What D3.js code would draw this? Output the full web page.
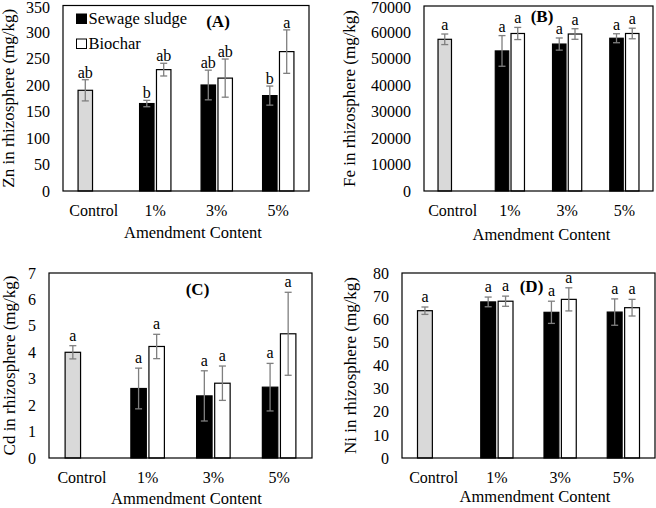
<!DOCTYPE html>
<html>
<head>
<meta charset="utf-8">
<script src="https://cdn.jsdelivr.net/npm/d3@7/dist/d3.min.js"></script>
<style>
  body { margin: 0; background: #fff; }
  svg text { font-family: "Liberation Serif", "Times New Roman", "DejaVu Serif", serif; fill: #000; }
</style>
</head>
<body>
<svg id="chart" width="656" height="508"></svg>
<script>
// categories on the x axis
const categories = ["Control", "1%", "3%", "5%"];
const seriesNames = ["Sewage sludge", "Biochar"];

// Zn (A) - control value sits in the sludge slot
const znSludge = [190, 165, 200, 180];
const znSludgeErr = [20, 6, 28, 18];
const znBiochar = [null, 229, 213, 263];
const znBiocharErr = [null, 12, 36, 41];
const znSludgeLetters = ["ab", "b", "ab", "b"];
const znBiocharLetters = [null, "ab", "ab", "a"];
const znTicks = [0, 50, 100, 150, 200, 250, 300, 350];

// Fe (B)
const feSludge = [57400, 53000, 55600, 57800];
const feSludgeErr = [2000, 5800, 2300, 1700];
const feBiochar = [null, 59600, 59400, 59600];
const feBiocharErr = [null, 2300, 2000, 2000];
const feSludgeLetters = ["a", "a", "a", "a"];
const feBiocharLetters = [null, "a", "a", "a"];
const feTicks = [0, 10000, 20000, 30000, 40000, 50000, 60000, 70000];

// Cd (C)
const cdSludge = [4.0, 2.63, 2.35, 2.68];
const cdSludgeErr = [0.25, 0.77, 0.95, 0.9];
const cdBiochar = [null, 4.22, 2.83, 4.7];
const cdBiocharErr = [null, 0.46, 0.65, 1.57];
const cdSludgeLetters = ["a", "a", "a", "a"];
const cdBiocharLetters = [null, "a", "a", "a"];
const cdTicks = [0, 1, 2, 3, 4, 5, 6, 7];

// Ni (D)
const niSludge = [63.7, 67.5, 63.0, 63.1];
const niSludgeErr = [1.6, 2.1, 4.8, 5.7];
const niBiochar = [null, 67.8, 68.6, 65.0];
const niBiocharErr = [null, 2.2, 5.0, 3.6];
const niSludgeLetters = ["a", "a", "a", "a"];
const niBiocharLetters = [null, "a", "a", "a"];
const niTicks = [0, 10, 20, 30, 40, 50, 60, 70, 80];

const FONT = "'Liberation Serif', 'Times New Roman', 'DejaVu Serif', serif";

const svg = d3.select("#chart");
svg.append("rect").attr("width", 656).attr("height", 508).attr("fill", "#fff");

function buildRows(sl, slE, slL, bc, bcE, bcL){
  let rows = [];
  categories.forEach(function(c, i){
    if(sl[i] != null) rows.push({cat: c, s: "Sewage sludge", val: sl[i], err: slE[i], lab: slL[i], ctrl: i === 0});
    if(bc[i] != null) rows.push({cat: c, s: "Biochar", val: bc[i], err: bcE[i], lab: bcL[i], ctrl: false});
  });
  return rows;
}

function drawPanel(p){
  let w = p.right - p.left, h = p.bottom - p.top;
  let g = svg.append("g").attr("transform", "translate(" + p.left + "," + p.top + ")")
    .attr("font-family", FONT);

  let x = d3.scaleBand().domain(categories).range([0, w]);
  let bw = x.bandwidth();
  let x1 = d3.scaleBand().domain(seriesNames).range([-0.255 * bw, 0.255 * bw]).paddingInner(0.145);
  let y = d3.scaleLinear().domain([0, p.max]).range([h, 0]);

  // y axis labels
  let ya = g.append("g")
    .call(d3.axisLeft(y).tickValues(p.ticks).tickSize(0).tickPadding(13).tickFormat(d3.format("d")));
  ya.attr("font-family", FONT).attr("font-size", 16);
  ya.select(".domain").remove();
  // top label sits on the window edge, nudge it in a touch
  if(p.top < 10){
    ya.selectAll("text").filter(function(d){ return d === p.max; }).attr("dy", "0.42em");
  }

  // x axis labels
  let xa = g.append("g").attr("transform", "translate(0," + h + ")")
    .call(d3.axisBottom(x).tickSize(0).tickPadding(13.5));
  xa.attr("font-family", FONT).attr("font-size", 16);
  xa.select(".domain").remove();

  let bars = g.selectAll(".bar").data(p.rows).enter().append("g");

  bars.append("rect")
    .attr("x", function(d){ return x(d.cat) + bw / 2 + x1(d.s); })
    .attr("y", function(d){ return y(d.val); })
    .attr("width", x1.bandwidth())
    .attr("height", function(d){ return h - y(d.val); })
    .attr("fill", function(d){ return d.ctrl ? "#d9d9d9" : (d.s === "Biochar" ? "#fff" : "#000"); })
    .attr("stroke", "#000")
    .attr("stroke-width", 1.2);

  // error bars
  let cx = function(d){ return x(d.cat) + bw / 2 + x1(d.s) + x1.bandwidth() / 2; };
  bars.append("line")
    .attr("x1", cx).attr("x2", cx)
    .attr("y1", function(d){ return y(d.val + d.err); })
    .attr("y2", function(d){ return y(d.val - d.err); })
    .attr("stroke", "#7f7f7f").attr("stroke-width", 1.3);
  [1, -1].forEach(function(sg){
    bars.append("line")
      .attr("x1", function(d){ return cx(d) - 3.5; })
      .attr("x2", function(d){ return cx(d) + 3.5; })
      .attr("y1", function(d){ return y(d.val + sg * d.err); })
      .attr("y2", function(d){ return y(d.val + sg * d.err); })
      .attr("stroke", "#7f7f7f").attr("stroke-width", 1.3);
  });

  // significance letters
  bars.append("text")
    .attr("x", cx)
    .attr("y", function(d){ return y(d.val + d.err) - p.letterGap; })
    .attr("text-anchor", "middle")
    .attr("font-size", 16)
    .text(function(d){ return d.lab; });

  // frame
  g.append("rect").attr("width", w).attr("height", h)
    .attr("fill", "none").attr("stroke", "#000").attr("stroke-width", 1.2);

  // panel tag
  g.append("text").attr("x", p.tagX).attr("y", p.tagY)
    .attr("text-anchor", "middle")
    .attr("font-size", 17).attr("font-weight", "bold")
    .text(p.tag);

  // axis titles
  g.append("text")
    .attr("transform", "translate(" + (-p.yTitleOff) + "," + (h / 2) + ") rotate(-90)")
    .attr("text-anchor", "middle")
    .attr("font-size", 17)
    .text(p.yTitle);
  g.append("text")
    .attr("x", w / 2 + p.xTitleDx).attr("y", p.xTitleY)
    .attr("text-anchor", "middle")
    .attr("font-size", 16.5)
    .text(p.xTitle);

  return g;
}

let gA = drawPanel({
  left: 63, right: 309, top: 5.5, bottom: 191, max: 350, ticks: znTicks,
  rows: buildRows(znSludge, znSludgeErr, znSludgeLetters, znBiochar, znBiocharErr, znBiocharLetters),
  letterGap: 2, tag: "(A)", tagX: 155, tagY: 21, yTitleOff: 49,
  yTitle: "Zn in rhizosphere (mg/kg)", xTitle: "Amendment Content", xTitleY: 232, xTitleDx: 7
});

drawPanel({
  left: 424, right: 653, top: 6, bottom: 191, max: 70000, ticks: feTicks,
  rows: buildRows(feSludge, feSludgeErr, feSludgeLetters, feBiochar, feBiocharErr, feBiocharLetters),
  letterGap: 4, tag: "(B)", tagX: 118, tagY: 16, yTitleOff: 69,
  yTitle: "Fe in rhizosphere (mg/kg)", xTitle: "Amendment Content", xTitleY: 234, xTitleDx: 3
});

drawPanel({
  left: 49, right: 312, top: 273, bottom: 458, max: 7, ticks: cdTicks,
  rows: buildRows(cdSludge, cdSludgeErr, cdSludgeLetters, cdBiochar, cdBiocharErr, cdBiocharLetters),
  letterGap: 5, tag: "(C)", tagX: 148.5, tagY: 22, yTitleOff: 34,
  yTitle: "Cd in rhizosphere (mg/kg)", xTitle: "Ammendment Content", xTitleY: 231, xTitleDx: 6
});

drawPanel({
  left: 402, right: 655, top: 273, bottom: 458, max: 80, ticks: niTicks,
  rows: buildRows(niSludge, niSludgeErr, niSludgeLetters, niBiochar, niBiocharErr, niBiocharLetters),
  letterGap: 5, tag: "(D)", tagX: 129.5, tagY: 19, yTitleOff: 46,
  yTitle: "Ni in rhizosphere (mg/kg)", xTitle: "Ammendment Content", xTitleY: 229, xTitleDx: 6.5
});

// legend in panel A
let leg = gA.append("g").attr("transform", "translate(13,8)");
seriesNames.forEach(function(s, i){
  leg.append("rect").attr("x", 0.5).attr("y", i * 25 + 0.5).attr("width", 10).attr("height", 9.5)
    .attr("fill", i === 0 ? "#000" : "#fff").attr("stroke", "#000").attr("stroke-width", 1);
  leg.append("text").attr("x", 12.5).attr("y", i * 25 + 10)
    .attr("font-size", 16.5).text(s);
});
</script>
</body>
</html>
